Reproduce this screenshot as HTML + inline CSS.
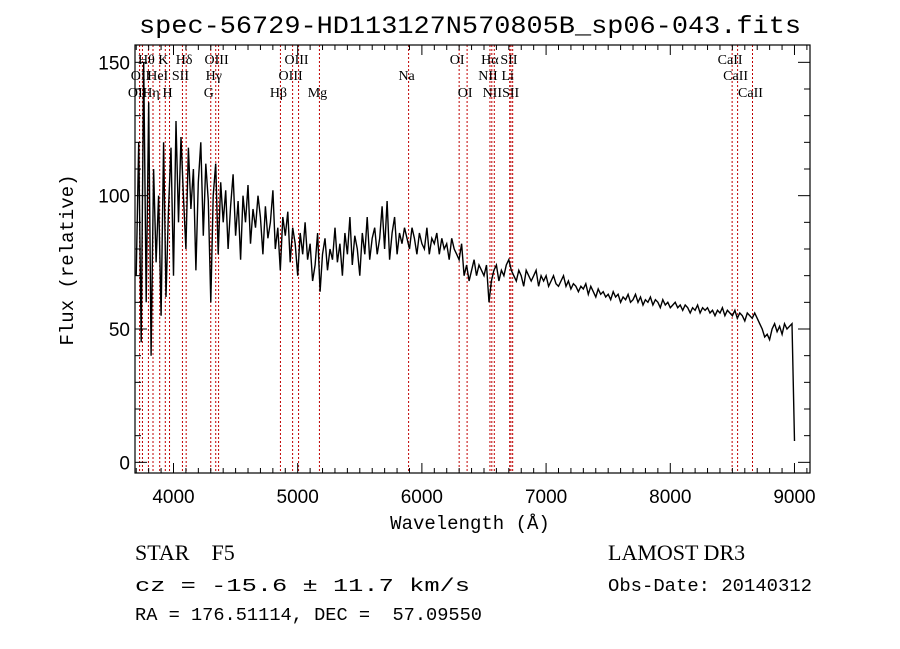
<!DOCTYPE html>
<html><head><meta charset="utf-8"><style>
html,body{margin:0;padding:0;background:#fff;}
svg{display:block;}
text{fill:#000;}
</style></head><body>
<svg id="chart" width="900" height="649" viewBox="0 0 900 649" xmlns="http://www.w3.org/2000/svg">
<rect x="0" y="0" width="900" height="649" fill="#fff"/>
<text x="470" y="33" text-anchor="middle" font-family="Liberation Mono, monospace" font-size="25" textLength="662" lengthAdjust="spacingAndGlyphs">spec-56729-HD113127N570805B_sp06-043.fits</text>
<g id="lines"></g>
<g id="labels" font-family="Liberation Serif, serif" font-size="14"></g>
<g id="series"></g>
<g id="axes"></g>
<text x="470" y="529" text-anchor="middle" font-family="Liberation Mono, monospace" font-size="19">Wavelength (Å)</text>
<text transform="translate(73,260) rotate(-90)" text-anchor="middle" font-family="Liberation Mono, monospace" font-size="19">Flux (relative)</text>
<text x="135" y="560" font-family="Liberation Serif, serif" font-size="22" xml:space="preserve">STAR    F5</text>
<text x="135" y="591" font-family="Liberation Mono, monospace" font-size="18" textLength="335" lengthAdjust="spacingAndGlyphs">cz = -15.6 ± 11.7 km/s</text>
<text x="135" y="620" font-family="Liberation Mono, monospace" font-size="18" textLength="347" lengthAdjust="spacingAndGlyphs" xml:space="preserve">RA = 176.51114, DEC =  57.09550</text>
<text x="608" y="560" font-family="Liberation Serif, serif" font-size="22">LAMOST DR3</text>
<text x="608" y="591" font-family="Liberation Mono, monospace" font-size="18" textLength="204" lengthAdjust="spacingAndGlyphs">Obs-Date: 20140312</text>
</svg>
<script>
const waveStart = 3700;
const waveStep = 20;
const flux = [
70,120,45,150,60,135,40,110,75,100,
55,120,62,95,118,70,128,90,122,100,
80,118,95,110,72,105,120,85,112,98,
60,100,112,78,105,90,102,80,96,108,
85,98,76,100,90,104,82,95,88,100,
92,78,96,84,90,102,80,88,72,92,
85,94,75,88,82,70,86,78,90,76,
82,68,74,86,64,78,84,72,80,76,
88,75,82,70,86,78,92,74,85,80,
70,86,78,92,76,84,88,78,84,96,
80,98,76,86,92,78,86,82,88,84,
80,88,84,78,86,82,80,88,78,84,
82,86,78,84,80,82,76,84,80,78,
76,82,70,74,68,72,76,70,74,72,
70,74,60,68,72,74,68,72,70,74,
76,72,70,68,72,70,66,72,70,68,
70,72,66,70,68,70,66,68,70,67,
66,68,70,66,68,65,67,66,64,66,
65,67,63,66,64,62,65,63,64,62,
63,61,64,62,63,60,62,61,63,60,
61,63,60,62,59,61,60,62,59,61,
60,58,61,59,60,58,59,60,58,59,
57,59,58,56,58,57,59,56,58,57,
58,56,57,55,57,56,58,55,57,56,
55,57,54,56,55,53,56,55,54,56,
54,52,50,47,48,46,50,52,49,51,
48,52,50,51,52,8
];
const lineWaves = [3727,3750,3798,3835,3889,3934,3968,4072,4102,4300,4340,4363,4861,4959,5007,5175,5893,6300,6364,6548,6563,6583,6707,6717,6731,8498,8542,8662];
const lineNames = ["OII","OII","Hθ","Hη","HeI","K","H","SII","Hδ","G","Hγ","OIII","Hβ","OIII","OIII","Mg","Na","OI","OI","NII","Hα","NII","Li","SII","SII","CaII","CaII","CaII"];
const lineRows = [2,1,0,2,1,0,2,1,0,2,1,0,2,1,0,2,1,0,2,1,0,2,1,0,2,0,1,2];
const xTicks = [4000,5000,6000,7000,8000,9000];
const yTicks = [0,50,100,150];

const L=135,R=810,T=45,B=473, X0=3690, X1=9125, Y0=-4, Y1=156.5;
const NS="http://www.w3.org/2000/svg";
function xs(w){return L+(w-X0)/(X1-X0)*(R-L);}
function ys(v){return B-(v-Y0)/(Y1-Y0)*(B-T);}
function mk(tag,attrs,parent){const e=document.createElementNS(NS,tag);for(const k in attrs)e.setAttribute(k,attrs[k]);parent.appendChild(e);return e;}

const gl=document.getElementById('lines'), glab=document.getElementById('labels');
const rowY=[64,80,97];
lineWaves.forEach((w,i)=>{
  const ln=mk('line',{x1:xs(w),x2:xs(w),y1:T,y2:B,stroke:'#c00000','stroke-width':1,'stroke-dasharray':'2,2'},gl);
  
  
  const t=mk('text',{x:xs(w)-2,y:rowY[lineRows[i]],'text-anchor':'middle'},glab);
  t.textContent=lineNames[i];
  
  
});

const gs=document.getElementById('series');
let pts=[];
flux.forEach((f,i)=>{const w=waveStart+waveStep*i;pts.push(xs(w).toFixed(1)+','+ys(f).toFixed(1));});
const pl=mk('polyline',{points:pts.join(' '),fill:'none',stroke:'#000','stroke-width':1.4},gs);



const ga=document.getElementById('axes');
const fr=mk('rect',{x:L,y:T,width:R-L,height:B-T,fill:'none',stroke:'#000','stroke-width':1.2},ga);


for(let w=3700;w<=9100;w+=100){
  const maj=w%1000===0, len=maj?10:5, x=xs(w);
  mk('line',{x1:x,x2:x,y1:B,y2:B-len,stroke:'#000'},ga);
  mk('line',{x1:x,x2:x,y1:T,y2:T+len,stroke:'#000'},ga);
}
for(let v=0;v<=150;v+=10){
  const maj=v%50===0, len=maj?12:6, y=ys(v);
  mk('line',{x1:L,x2:L+len,y1:y,y2:y,stroke:'#000'},ga);
  mk('line',{x1:R,x2:R-len,y1:y,y2:y,stroke:'#000'},ga);
}
xTicks.forEach(w=>{
  const t=mk('text',{x:xs(w),y:B+30,'text-anchor':'middle','font-family':'Liberation Sans, sans-serif','font-size':19},ga);
  t.textContent=w;
  
  
});
yTicks.forEach(v=>{
  const t=mk('text',{x:L-5,y:ys(v)+7,'text-anchor':'end','font-family':'Liberation Sans, sans-serif','font-size':19},ga);
  t.textContent=v;
  
  
});
</script>
</body></html>
